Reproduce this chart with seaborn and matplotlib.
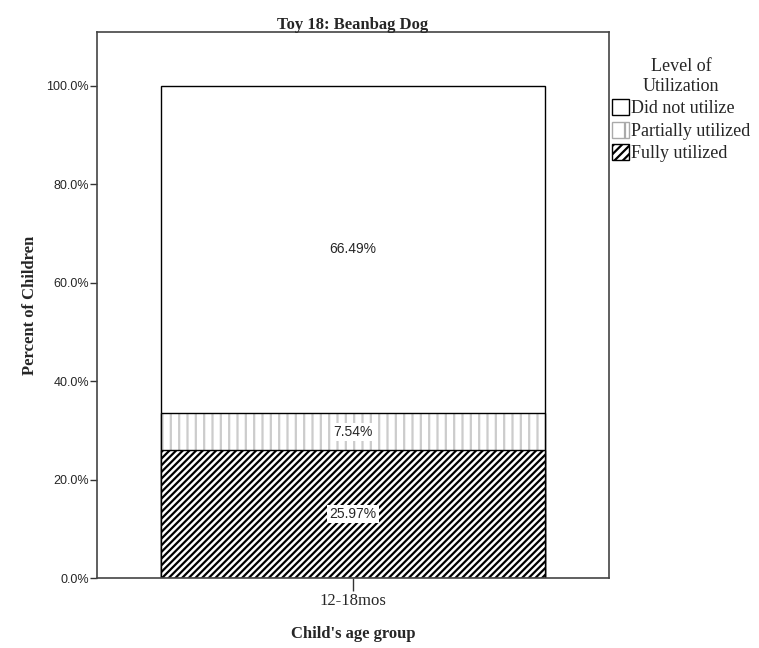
import matplotlib
matplotlib.use("Agg")
import matplotlib.pyplot as plt
from matplotlib.patches import Patch
from matplotlib.ticker import PercentFormatter
import seaborn as sns
import pandas as pd

# data
age_group = ["12-18mos"]
levels = ["Did not utilize", "Partially utilized", "Fully utilized"]
fully = [25.97]
partial = [7.54]
not_used = [66.49]

sns.set_style("white")
plt.rcParams["hatch.linewidth"] = 1.6

serif = "Liberation Serif"
sans = "Liberation Sans"
dots = "||"
stripes = "/////"

fig = plt.figure(figsize=(7.59, 6.48), dpi=100)
ax = fig.add_axes([0.128, 0.108, 0.674, 0.843])

# stacked bar drawn as cumulative bars, top segment first
cum_partial = [f + p for f, p in zip(fully, partial)]
cum_total = [c + n for c, n in zip(cum_partial, not_used)]

df = pd.DataFrame({"age": age_group, "total": cum_total,
                   "partial": cum_partial, "fully": fully})

sns.barplot(data=df, x="age", y="total", color="white", edgecolor="black",
            linewidth=1, width=0.75, ax=ax)
# light dotted-looking fill for the partial segment, then its outline
sns.barplot(data=df, x="age", y="partial", color="white", edgecolor="#cccccc",
            linewidth=0, width=0.75, hatch=dots, ax=ax)
sns.barplot(data=df, x="age", y="partial", fill=False, edgecolor="black",
            linewidth=1, width=0.75, ax=ax)
sns.barplot(data=df, x="age", y="fully", color="white", edgecolor="black",
            linewidth=1, width=0.75, hatch=stripes, ax=ax)

# segment labels
for i in range(len(age_group)):
    segs = [(0, fully[i]), (fully[i], partial[i]), (cum_partial[i], not_used[i])]
    for base, val in segs:
        ax.text(i, base + val / 2, f"{val:.2f}%", ha="center", va="center",
                fontsize=10, family=sans,
                bbox=dict(facecolor="white", edgecolor="none", pad=1.5))

ax.set_xlim(-0.5, 0.5)
ax.set_ylim(0, 111)
ax.set_yticks([0, 20, 40, 60, 80, 100])
ax.yaxis.set_major_formatter(PercentFormatter(decimals=1))
for lab in ax.get_yticklabels():
    lab.set_family(sans)
    lab.set_fontsize(9)
for lab in ax.get_xticklabels():
    lab.set_family(serif)
    lab.set_fontsize(12)

ax.tick_params(axis="y", direction="out", length=5, width=1, color="#333333", left=True, pad=1)
ax.tick_params(axis="x", direction="out", length=9, width=1, color="#333333", bottom=True, pad=2)

for s in ax.spines.values():
    s.set_color("#444444")
    s.set_linewidth(1.2)

ax.set_xlabel("Child's age group", family=serif, fontsize=12, fontweight="bold", labelpad=12)
ax.set_ylabel("Percent of Children", family=serif, fontsize=12, fontweight="bold", labelpad=6)
ax.set_title("Toy 18: Beanbag Dog", family=serif, fontsize=12, fontweight="bold", pad=2)

handles = [Patch(facecolor="white", edgecolor="black", label=levels[0]),
           Patch(facecolor="white", edgecolor="#aaaaaa", hatch="|", label=levels[1]),
           Patch(facecolor="white", edgecolor="black", hatch="////", label=levels[2])]
leg = fig.legend(handles=handles, title="Level of\nUtilization", loc="upper left",
                 bbox_to_anchor=(0.806, 0.91), frameon=False,
                 prop={"family": serif, "size": 13}, handlelength=0.95,
                 handleheight=0.95, handletextpad=0.1, labelspacing=0.25,
                 borderaxespad=0, borderpad=0, alignment="center")
leg.get_title().set_family(serif)
leg.get_title().set_fontsize(13)
leg.get_title().set_multialignment("center")

fig.savefig("out.png", dpi=100)
